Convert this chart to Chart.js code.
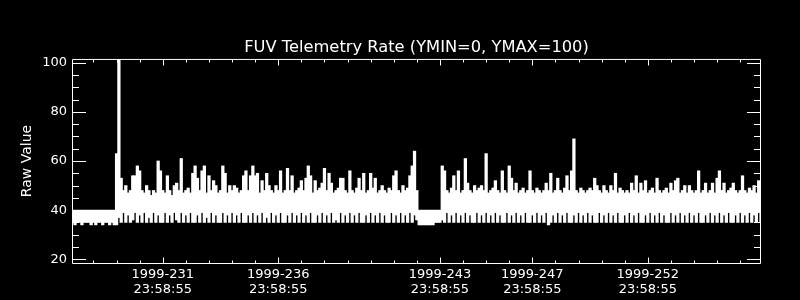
<!DOCTYPE html>
<html lang="en">
<head>
  <meta charset="UTF-8" />
  <title>FUV Telemetry Rate</title>
  <script src="https://cdn.jsdelivr.net/npm/chart.js"></script>
  <style>
    body {
      margin: 0;
      background-color: #000;
    }
    canvas {
      display: block;
    }
  </style>
</head>
<body>
  <canvas id="rateChart" width="800" height="300"></canvas>

  <script>
    // time axis in days; integer day = "1999-DDD 23:58:55"
    const t0 = 227.1;
    const dt = 0.1;
    const xMin = 227.07;
    const xMax = 256.9;
    const tickDays = [231, 236, 243, 247, 252];
    const tickTime = '23:58:55';
    const yTicks = [20, 40, 60, 80, 100];

    // per-bin max / min of the raw value (one bin = 0.1 day)
    const highs = [
      40, 40, 40, 40, 40, 40, 40, 40, 40, 40,
      40, 40, 40, 40, 40, 40, 40, 40, 40, 63,
      102, 53, 48, 50, 47, 48, 54, 54, 58, 56,
      48, 47, 50, 48, 46, 48, 47, 60, 56, 48,
      47, 54, 48, 46, 50, 51, 48, 61, 47, 48,
      49, 47, 55, 58, 53, 48, 56, 58, 47, 54,
      48, 52, 50, 47, 48, 58, 55, 47, 50, 48,
      50, 49, 47, 48, 54, 56, 48, 54, 58, 54,
      55, 47, 52, 48, 55, 50, 48, 47, 50, 48,
      56, 47, 48, 57, 48, 54, 47, 48, 49, 52,
      48, 53, 58, 54, 47, 52, 48, 49, 51, 57,
      48, 55, 51, 47, 48, 49, 53, 53, 48, 47,
      56, 48, 47, 49, 53, 48, 55, 47, 48, 55,
      49, 53, 47, 48, 50, 48, 47, 49, 48, 54,
      56, 48, 47, 50, 48, 49, 54, 58, 64, 48,
      40, 40, 40, 40, 40, 40, 40, 40, 40, 40,
      58, 56, 48, 47, 49, 54, 48, 56, 47, 48,
      61, 51, 48, 47, 50, 48, 49, 50, 48, 63,
      47, 48, 49, 52, 48, 47, 56, 48, 47, 58,
      53, 48, 51, 47, 48, 49, 47, 48, 56, 48,
      47, 49, 48, 47, 48, 51, 48, 55, 47, 48,
      53, 48, 47, 49, 54, 48, 56, 69, 48, 47,
      49, 48, 47, 48, 49, 48, 53, 50, 48, 47,
      50, 48, 47, 50, 48, 55, 47, 49, 48, 47,
      48, 47, 51, 48, 54, 47, 51, 48, 52, 47,
      48, 49, 47, 53, 48, 47, 48, 49, 47, 51,
      48, 52, 53, 47, 48, 50, 47, 50, 48, 47,
      48, 56, 47, 48, 51, 47, 48, 51, 47, 53,
      56, 48, 51, 47, 48, 49, 51, 48, 47, 48,
      54, 48, 47, 49, 48, 50, 47, 52, 51
    ];
    const lows = [
      35, 34, 35, 35, 34, 35, 35, 35, 34, 35,
      34, 35, 35, 34, 35, 35, 34, 35, 34, 34,
      37, 35, 39, 35, 38, 35, 36, 39, 35, 38,
      35, 39, 35, 37, 35, 39, 35, 38, 35, 35,
      39, 35, 38, 35, 39, 36, 35, 39, 35, 38,
      35, 39, 35, 35, 38, 35, 39, 35, 37, 35,
      39, 35, 38, 35, 35, 39, 35, 38, 35, 39,
      35, 38, 35, 39, 35, 35, 38, 35, 39, 35,
      38, 35, 39, 35, 37, 35, 39, 35, 38, 35,
      39, 35, 35, 38, 35, 39, 35, 38, 35, 39,
      35, 38, 35, 39, 35, 35, 38, 35, 39, 35,
      38, 35, 39, 35, 36, 35, 39, 35, 38, 35,
      39, 35, 38, 35, 39, 35, 35, 38, 35, 39,
      35, 38, 35, 39, 35, 38, 35, 35, 39, 35,
      38, 35, 39, 35, 38, 35, 39, 35, 38, 36,
      34, 34, 34, 34, 34, 34, 34, 35, 35, 35,
      36, 35, 39, 35, 38, 35, 39, 35, 38, 35,
      39, 35, 38, 35, 35, 39, 35, 38, 35, 39,
      35, 38, 35, 39, 35, 38, 35, 35, 39, 35,
      38, 35, 39, 35, 38, 35, 39, 35, 35, 38,
      35, 39, 35, 38, 35, 39, 34, 35, 38, 35,
      39, 35, 38, 35, 39, 35, 35, 38, 35, 39,
      35, 38, 35, 39, 35, 38, 35, 35, 39, 35,
      38, 35, 39, 35, 38, 35, 39, 35, 35, 38,
      35, 39, 35, 38, 35, 39, 35, 35, 38, 35,
      39, 35, 38, 35, 39, 35, 38, 35, 35, 39,
      35, 38, 35, 39, 35, 38, 35, 39, 35, 38,
      35, 39, 35, 35, 38, 35, 39, 35, 38, 35,
      39, 35, 38, 35, 39, 35, 35, 38, 35, 39,
      35, 38, 35, 39, 35, 38, 35, 39, 35
    ];

    const points = highs.map((hi, i) => ({ x: t0 + i * dt, y: [lows[i], hi] }));

    // IDL-style box with inward major/minor ticks
    const frameTicks = {
      id: 'frameTicks',
      afterDatasetsDraw(chart) {
        const { ctx, chartArea: a, scales: { x, y } } = chart;
        ctx.save();
        ctx.strokeStyle = '#fff';
        ctx.lineWidth = 1;
        ctx.beginPath();
        ctx.rect(a.left + 0.5, a.top + 0.5, a.right - a.left - 1, a.bottom - a.top);
        for (let d = Math.ceil(xMin); d <= Math.floor(xMax); d++) {
          const px = Math.round(x.getPixelForValue(d)) + 0.5;
          const len = tickDays.includes(d) ? 6 : 3;
          ctx.moveTo(px, a.bottom + 0.5);
          ctx.lineTo(px, a.bottom + 0.5 - len);
          ctx.moveTo(px, a.top + 0.5);
          ctx.lineTo(px, a.top + 0.5 + len);
        }
        for (let v = 20; v <= 100; v += 5) {
          const py = Math.round(y.getPixelForValue(v)) + 0.5;
          const len = v % 20 === 0 ? 14 : 7;
          ctx.moveTo(a.left, py);
          ctx.lineTo(a.left + len, py);
          ctx.moveTo(a.right, py);
          ctx.lineTo(a.right - len, py);
        }
        ctx.stroke();
        ctx.restore();
      }
    };

    new Chart(document.getElementById('rateChart').getContext('2d'), {
      type: 'bar',
      data: {
        datasets: [{
          label: 'Raw Value',
          data: points,
          backgroundColor: '#fff',
          borderWidth: 0,
          barThickness: 2.6
        }]
      },
      options: {
        responsive: false,
        animation: false,
        layout: { padding: { left: 0, right: 39, top: 0, bottom: 0 } },
        plugins: {
          legend: { display: false },
          tooltip: { enabled: false },
          title: {
            display: true,
            fullSize: false,
            text: 'FUV Telemetry Rate (YMIN=0, YMAX=100)',
            color: '#fff',
            font: { family: 'DejaVu Sans', size: 16.3, weight: 'normal', lineHeight: 1.2 },
            padding: { top: 37.7, bottom: 1.7 }
          }
        },
        scales: {
          x: {
            type: 'linear',
            min: xMin,
            max: xMax,
            offset: false,
            grid: { display: false, drawTicks: false },
            border: { display: false },
            afterBuildTicks: scale => { scale.ticks = tickDays.map(v => ({ value: v })); },
            afterFit: scale => { scale.height = 37; },
            ticks: {
              color: '#fff',
              autoSkip: false,
              maxRotation: 0,
              padding: 5,
              font: { family: 'DejaVu Sans', size: 13, lineHeight: 1.09 },
              callback: v => ['1999-' + v, tickTime]
            }
          },
          y: {
            min: 18.5,
            max: 101.5,
            grid: { display: false, drawTicks: false },
            border: { display: false },
            afterBuildTicks: scale => { scale.ticks = yTicks.map(v => ({ value: v })); },
            afterFit: scale => { scale.width = 72; },
            ticks: {
              color: '#fff',
              padding: 5,
              font: { family: 'DejaVu Sans', size: 13 }
            },
            title: {
              display: true,
              text: 'Raw Value',
              color: '#fff',
              font: { family: 'DejaVu Sans', size: 14 },
              padding: { top: 19, bottom: 0 }
            }
          }
        }
      },
      plugins: [frameTicks]
    });
  </script>
</body>
</html>
